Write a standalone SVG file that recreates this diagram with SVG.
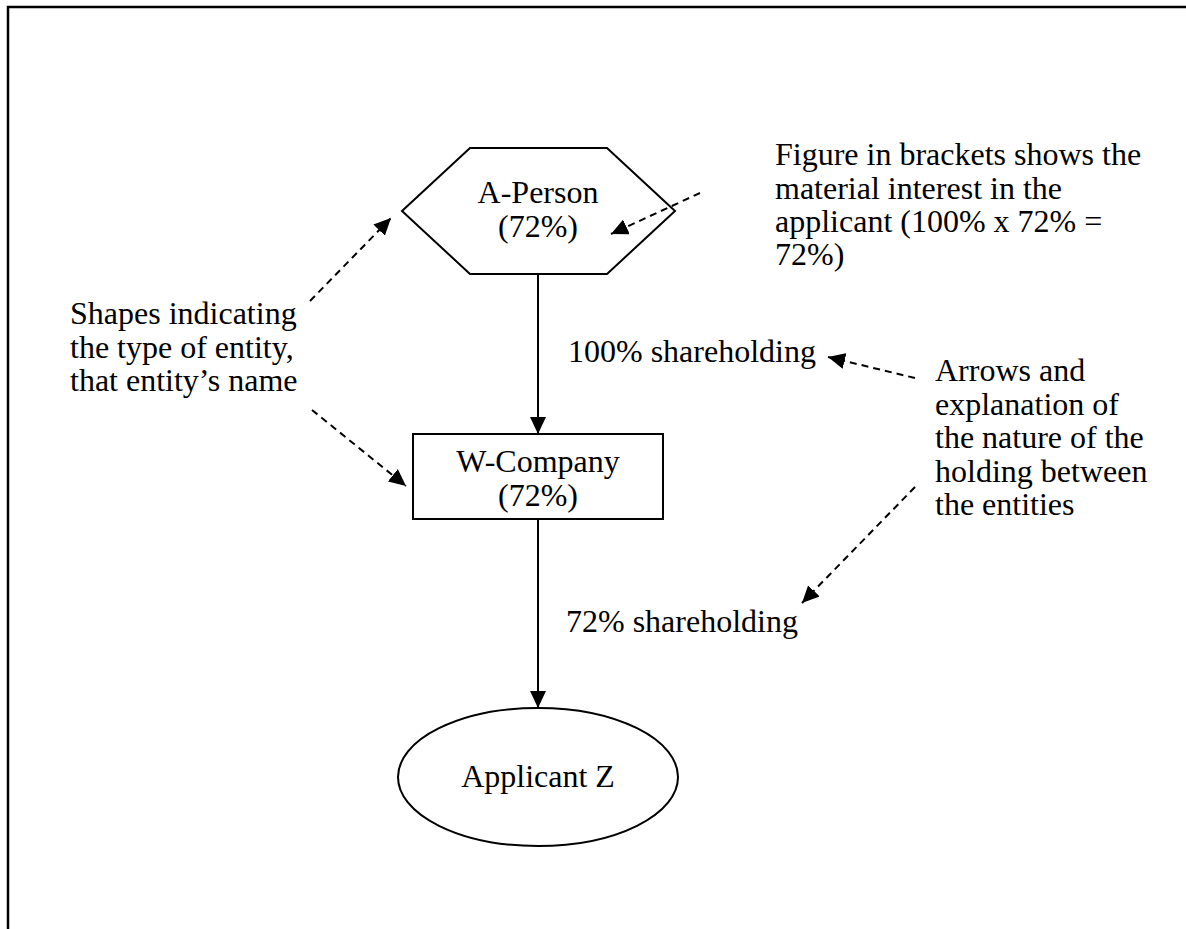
<svg xmlns="http://www.w3.org/2000/svg" width="1186" height="929" viewBox="0 0 1186 929">
<style>
.t{font-family:"Liberation Serif","Times New Roman",serif;font-size:32px;fill:#000}
.c{text-anchor:middle}
.s{fill:#fff;stroke:#000;stroke-width:2}
.e{stroke:#000;stroke-width:2;fill:none}
.d{stroke:#000;stroke-width:2;fill:none;stroke-dasharray:7 5}
</style>
<defs>
<marker id="ah" markerUnits="userSpaceOnUse" markerWidth="18" markerHeight="16" refX="17" refY="8" orient="auto">
<path d="M0,0 L17,8 L0,16 Z" fill="#000"/>
</marker>
</defs>
<rect width="1186" height="929" fill="#fff"/>
<path d="M8,929 L8,7 L1186,7" fill="none" stroke="#000" stroke-width="2.5"/>
<g id="a-person">
<polygon class="s" points="402,211 470,148 607,148 675,211 607,274 470,274"/>
<text class="t c" x="538" y="203">A-Person</text>
<text class="t c" x="538" y="237">(72%)</text>
</g>
<g id="w-company">
<rect class="s" x="413" y="434" width="250" height="85"/>
<text class="t c" x="538" y="472">W-Company</text>
<text class="t c" x="538" y="506">(72%)</text>
</g>
<g id="applicant-z">
<ellipse class="s" cx="538" cy="777" rx="140" ry="69"/>
<text class="t c" x="538" y="787">Applicant Z</text>
</g>
<g id="note-figure">
<text class="t" x="775" y="165">Figure in brackets shows the</text>
<text class="t" x="775" y="199">material interest in the</text>
<text class="t" x="775" y="232">applicant (100% x 72% =</text>
<text class="t" x="775" y="265">72%)</text>
</g>
<g id="note-shapes">
<text class="t" x="70" y="324">Shapes indicating</text>
<text class="t" x="70" y="358">the type of entity,</text>
<text class="t" x="70" y="391">that entity’s name</text>
</g>
<g id="note-arrows">
<text class="t" x="935" y="381">Arrows and</text>
<text class="t" x="935" y="415">explanation of</text>
<text class="t" x="935" y="448">the nature of the</text>
<text class="t" x="935" y="482">holding between</text>
<text class="t" x="935" y="515">the entities</text>
</g>
<g id="connectors">
<line class="e" x1="538" y1="274" x2="538" y2="434" marker-end="url(#ah)"/>
<line class="e" x1="538" y1="519" x2="538" y2="708" marker-end="url(#ah)"/>
<line class="d" x1="310" y1="301" x2="391" y2="218" marker-end="url(#ah)"/>
<line class="d" x1="312" y1="410" x2="406" y2="486" marker-end="url(#ah)"/>
<line class="d" x1="700" y1="193" x2="611" y2="234" marker-end="url(#ah)"/>
<line class="d" x1="915" y1="378" x2="828" y2="357" marker-end="url(#ah)"/>
<line class="d" x1="915" y1="487" x2="802" y2="603" marker-end="url(#ah)"/>
<text class="t" x="568" y="362">100% shareholding</text>
<text class="t" x="566" y="632">72% shareholding</text>
</g>
</svg>
